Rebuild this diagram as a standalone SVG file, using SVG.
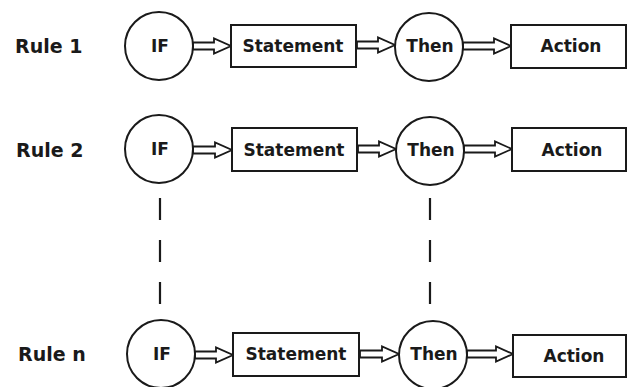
<svg xmlns="http://www.w3.org/2000/svg" width="628" height="387" viewBox="0 0 628 387">
<style>
.bg{fill:#fff}
.node{fill:#fff;stroke:#1a1a1a;stroke-width:2}
.lbl{font-family:"DejaVu Sans",sans-serif;font-weight:bold;font-size:17px;fill:#1a1a1a;text-anchor:middle}
.rule{font-family:"DejaVu Sans",sans-serif;font-weight:bold;font-size:19px;fill:#1a1a1a}
.arr{fill:#fff;stroke:#1a1a1a;stroke-width:1.8;stroke-linejoin:miter}
.dash{stroke:#1a1a1a;stroke-width:2.2;stroke-dasharray:22 20;fill:none}
</style>
<rect class="bg" x="0" y="0" width="628" height="387"/>
<g id="labels">
<text class="rule" x="15" y="53">Rule 1</text>
<text class="rule" x="16" y="157">Rule 2</text>
<text class="rule" x="18" y="361">Rule n</text>
</g>
<g id="connectors">
<polygon class="arr" points="193,42.5 214,42.5 214,38.5 231,46 214,53.5 214,49.5 193,49.5"/>
<polygon class="arr" points="357,41.5 378,41.5 378,37.5 395,45 378,52.5 378,48.5 357,48.5"/>
<polygon class="arr" points="463,42.5 494,42.5 494,38.5 511,46 494,53.5 494,49.5 463,49.5"/>
<polygon class="arr" points="193,146.5 215,146.5 215,142.5 232,150 215,157.5 215,153.5 193,153.5"/>
<polygon class="arr" points="358,145.5 379,145.5 379,141.5 396,149 379,156.5 379,152.5 358,152.5"/>
<polygon class="arr" points="464,145.5 495,145.5 495,141.5 512,149 495,156.5 495,152.5 464,152.5"/>
<polygon class="arr" points="195,351.5 216,351.5 216,347.5 233,355 216,362.5 216,358.5 195,358.5"/>
<polygon class="arr" points="360,350.5 382,350.5 382,346.5 399,354 382,361.5 382,357.5 360,357.5"/>
<polygon class="arr" points="467,350.5 496,350.5 496,346.5 513,354 496,361.5 496,357.5 467,357.5"/>
<line class="dash" x1="160" y1="198" x2="160" y2="304"/>
<line class="dash" x1="430" y1="198" x2="430" y2="304"/>
</g>
<g id="if1"><circle class="node" cx="159" cy="46" r="34"/><text class="lbl" x="160" y="52">IF</text></g>
<g id="statement1"><rect class="node" x="231" y="25" width="125" height="42"/><text class="lbl" x="293" y="52">Statement</text></g>
<g id="then1"><circle class="node" cx="429" cy="47" r="34"/><text class="lbl" x="430" y="52">Then</text></g>
<g id="action1"><rect class="node" x="511" y="25" width="115" height="43"/><text class="lbl" x="571" y="52">Action</text></g>
<g id="if2"><circle class="node" cx="159" cy="149" r="34"/><text class="lbl" x="160" y="155">IF</text></g>
<g id="statement2"><rect class="node" x="232" y="128" width="125" height="43"/><text class="lbl" x="294" y="156">Statement</text></g>
<g id="then2"><circle class="node" cx="430" cy="151" r="34"/><text class="lbl" x="431" y="156">Then</text></g>
<g id="action2"><rect class="node" x="512" y="128" width="114" height="43"/><text class="lbl" x="572" y="156">Action</text></g>
<g id="ifn"><circle class="node" cx="161" cy="354" r="34"/><text class="lbl" x="162" y="360">IF</text></g>
<g id="statementn"><rect class="node" x="233" y="333" width="126" height="43"/><text class="lbl" x="296" y="360">Statement</text></g>
<g id="thenn"><circle class="node" cx="433" cy="355" r="34"/><text class="lbl" x="434" y="360">Then</text></g>
<g id="actionn"><rect class="node" x="513" y="335" width="113" height="42"/><text class="lbl" x="574" y="362">Action</text></g>
</svg>
